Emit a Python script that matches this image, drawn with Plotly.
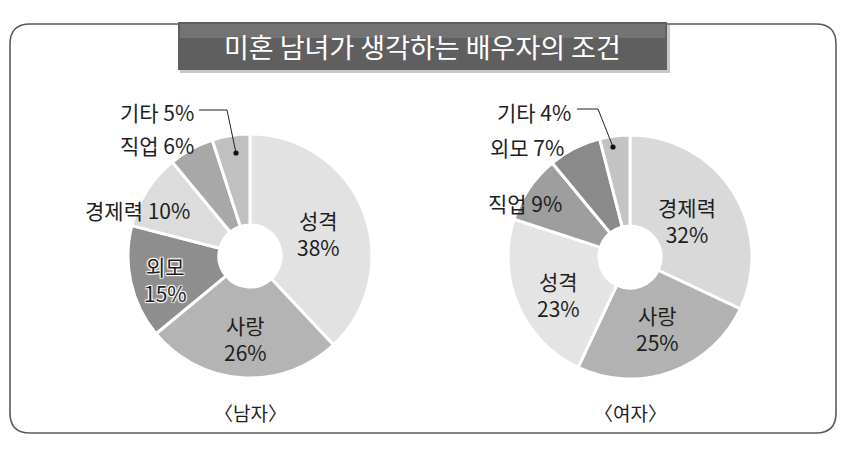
import plotly.graph_objects as go

# ---- data ----
title_text = "미혼 남녀가 생각하는 배우자의 조건"
group_names = ["〈남자〉", "〈여자〉"]

male_labels = ["성격", "사랑", "외모", "경제력", "직업", "기타"]
male_values = [38, 26, 15, 10, 6, 5]
male_colors = ["#e2e2e2", "#b4b4b4", "#8e8e8e", "#dcdcdc", "#a8a8a8", "#c0c0c0"]

female_labels = ["경제력", "사랑", "성격", "직업", "외모", "기타"]
female_values = [32, 25, 23, 9, 7, 4]
female_colors = ["#d9d9d9", "#b2b2b2", "#e4e4e4", "#9e9e9e", "#8a8a8a", "#c3c3c3"]

# ---- layout helpers (page pixel positions; page body has an 8px margin) ----
PW, PH = 846, 462
OFF = 8
W, H = PW - OFF, PH - OFF
FONT = "Noto Sans CJK KR, Noto Sans, sans-serif"
TXT = "#1e1e1e"


def dom(cx, cy, r):
    cx, cy = cx - OFF, cy - OFF
    return dict(x=[(cx - r) / W, (cx + r) / W], y=[1 - (cy + r) / H, 1 - (cy - r) / H])


fig = go.Figure()

fig.add_trace(go.Pie(
    labels=male_labels, values=male_values, hole=0.255, sort=False,
    direction="clockwise", rotation=0,
    marker=dict(colors=male_colors, line=dict(color="white", width=3)),
    textinfo="none", hoverinfo="label+percent", showlegend=False,
    domain=dom(250, 256, 122), name=group_names[0],
))
fig.add_trace(go.Pie(
    labels=female_labels, values=female_values, hole=0.255, sort=False,
    direction="clockwise", rotation=0,
    marker=dict(colors=female_colors, line=dict(color="white", width=3)),
    textinfo="none", hoverinfo="label+percent", showlegend=False,
    domain=dom(630, 257, 122), name=group_names[1],
))

shapes = []
# outer rounded box
x0, y0, x1, y1, r = 10, 24, 836, 433, 20
shapes.append(dict(
    type="path", xref="x", yref="y",
    path=(f"M {x0+r},{y0} L {x1-r},{y0} Q {x1},{y0} {x1},{y0+r} "
          f"L {x1},{y1-r} Q {x1},{y1} {x1-r},{y1} L {x0+r},{y1} "
          f"Q {x0},{y1} {x0},{y1-r} L {x0},{y0+r} Q {x0},{y0} {x0+r},{y0} Z"),
    line=dict(color="#5a5a5a", width=1.6), fillcolor="rgba(0,0,0,0)", layer="below",
))
# banner shadow, banner and its gloss band
shapes.append(dict(type="rect", xref="x", yref="y", x0=180, x1=670, y0=25, y1=73,
                   fillcolor="#c8c8c8", line=dict(width=0), layer="below"))
shapes.append(dict(type="rect", xref="x", yref="y", x0=178, x1=667, y0=22, y1=70,
                   fillcolor="#5f5f5f", line=dict(width=0), layer="below"))
shapes.append(dict(type="rect", xref="x", yref="y", x0=180, x1=665, y0=24, y1=38,
                   fillcolor="#737373", line=dict(width=0), layer="below"))

# leader lines for the 기타 labels
for pts in ([(199, 110), (227, 110), (236, 153)], [(577, 109), (598, 109), (613, 147)]):
    (ax, ay), (bx, by), (cx, cy) = pts
    shapes.append(dict(type="path", xref="x", yref="y",
                       path=f"M {ax},{ay} L {bx},{by} L {cx},{cy}",
                       line=dict(color="#222", width=1)))
    shapes.append(dict(type="circle", xref="x", yref="y", x0=cx - 2.6, x1=cx + 2.6,
                       y0=cy - 2.6, y1=cy + 2.6, fillcolor="#111", line=dict(width=0)))

annotations = []


def add_text(x, y, text, size=21, color=TXT, shadow=None):
    f = dict(family=FONT, size=size, color=color)
    if shadow:
        f["shadow"] = shadow
    annotations.append(dict(x=x, y=y, xref="x", yref="y", text=text, showarrow=False,
                            font=f, xanchor="center", yanchor="middle", align="center"))


def lab(labels, values, i, inside):
    sep = "<br>" if inside else " "
    return f"{labels[i]}{sep}{values[i]}%"


halo = "1px 1px 1px #fff, -1px -1px 1px #fff, 1px -1px 1px #fff, -1px 1px 1px #fff"

# male
add_text(318, 233, lab(male_labels, male_values, 0, True))
add_text(245, 338, lab(male_labels, male_values, 1, True))
add_text(165, 279, lab(male_labels, male_values, 2, True), shadow=halo)
add_text(137, 210, lab(male_labels, male_values, 3, False))
add_text(157, 145, lab(male_labels, male_values, 4, False))
add_text(157, 112, lab(male_labels, male_values, 5, False))
# female
add_text(687, 220, lab(female_labels, female_values, 0, True))
add_text(657, 328, lab(female_labels, female_values, 1, True))
add_text(558, 294, lab(female_labels, female_values, 2, True))
add_text(525, 203, lab(female_labels, female_values, 3, False))
add_text(527, 147, lab(female_labels, female_values, 4, False))
add_text(534, 112, lab(female_labels, female_values, 5, False))

# group captions and title
add_text(250, 412, group_names[0], size=19)
add_text(630, 412, group_names[1], size=19)
add_text(422, 46, title_text, size=27, color="white")

fig.update_layout(
    width=W, height=H, margin=dict(l=0, r=0, t=0, b=0),
    paper_bgcolor="white", plot_bgcolor="rgba(0,0,0,0)",
    xaxis=dict(range=[OFF, PW], visible=False, fixedrange=True),
    yaxis=dict(range=[PH, OFF], visible=False, fixedrange=True),
    shapes=shapes, annotations=annotations,
    font=dict(family=FONT, color=TXT),
)

fig.write_html("out.html")
